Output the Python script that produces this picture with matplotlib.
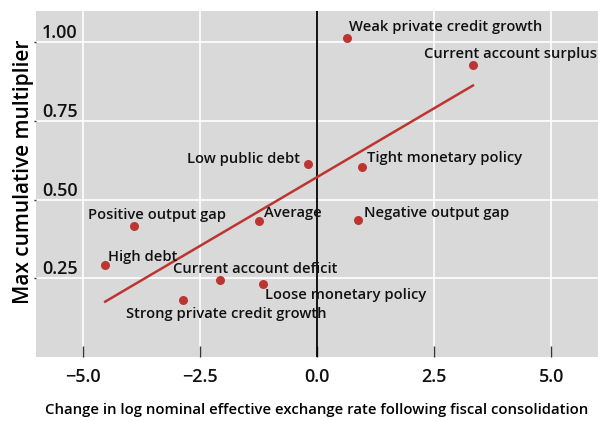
import matplotlib
matplotlib.use("Agg")
import matplotlib.pyplot as plt

# Fiscal consolidation: exchange rate response vs. peak multiplier
labels = [
    "Weak private credit growth",
    "Current account surplus",
    "Low public debt",
    "Tight monetary policy",
    "Positive output gap",
    "Average",
    "Negative output gap",
    "High debt",
    "Current account deficit",
    "Loose monetary policy",
    "Strong private credit growth",
]
fx_change = [0.65, 3.33, -0.20, 0.97, -3.90, -1.24, 0.88, -4.52, -2.07, -1.16, -2.86]
multiplier = [1.013, 0.927, 0.615, 0.603, 0.418, 0.431, 0.437, 0.294, 0.244, 0.231, 0.180]

# label placement (offset in pixels from the point, horizontal alignment)
label_dx = [2, -49, -8, 5, -46, 5, 6, 3, -47, 2, -57]
label_dy = [11, 11, 5, 9, 11, 8, 7, 8, 11, -11, -14]
label_ha = ["left", "left", "right", "left", "left", "left", "left", "left", "left", "left", "left"]

# fitted line endpoints
fit_x = [-4.52, 3.33]
fit_y = [0.176, 0.863]

RED = "#bd3530"
BG = "#d9d9d9"

plt.rcParams["font.family"] = ["Open Sans", "DejaVu Sans"]
plt.rcParams["text.color"] = "#111111"

fig = plt.figure(figsize=(5.98, 4.21), dpi=100)
ax = fig.add_axes([0.060, 0.152, 0.940, 0.822])
ax.set_facecolor(BG)
for s in ax.spines.values():
    s.set_visible(False)

ax.set_xlim(-6, 6)
ax.set_ylim(0, 1.1)
ax.set_xticks([-5.0, -2.5, 0.0, 2.5, 5.0])
ax.set_yticks([0.25, 0.50, 0.75, 1.00])
ax.set_xticklabels(["\u22125.0", "\u22122.5", "0.0", "2.5", "5.0"])
ax.set_yticklabels(["0.25", "0.50", "0.75", "1.00"])

ax.grid(True, color="white", linewidth=1.2)
ax.set_axisbelow(True)

ax.tick_params(axis="x", direction="in", length=8, width=1, color="#333333",
               pad=8, labelsize=13, labelcolor="#111111")
ax.tick_params(axis="y", direction="out", length=1.5, width=1, color="#333333",
               pad=-6, labelsize=13, labelcolor="#111111")
for lbl in ax.get_yticklabels():
    lbl.set_ha("left")
    lbl.set_va("bottom")
    lbl.set_fontweight("semibold")
for lbl in ax.get_xticklabels():
    lbl.set_fontweight("semibold")

ax.axvline(0, color="black", linewidth=1.3, zorder=2)

ax.plot(fit_x, fit_y, color=RED, linewidth=1.8, zorder=3)
ax.scatter(fx_change, multiplier, s=42, color=RED, zorder=4, linewidths=0)

for name, x, y, dx, dy, ha in zip(labels, fx_change, multiplier, label_dx, label_dy, label_ha):
    ax.annotate(name, (x, y), xytext=(dx, dy), textcoords="offset pixels",
                ha=ha, va="center", fontsize=10.6, fontweight="semibold", zorder=5)

ax.set_xlabel("Change in log nominal effective exchange rate following fiscal consolidation",
              fontsize=10.7, labelpad=12, fontweight="semibold")
ax.set_ylabel("Max cumulative multiplier", fontsize=15, fontweight="semibold")
ax.yaxis.set_label_coords(-0.003, 0.535)

fig.savefig("out.png", dpi=100)
